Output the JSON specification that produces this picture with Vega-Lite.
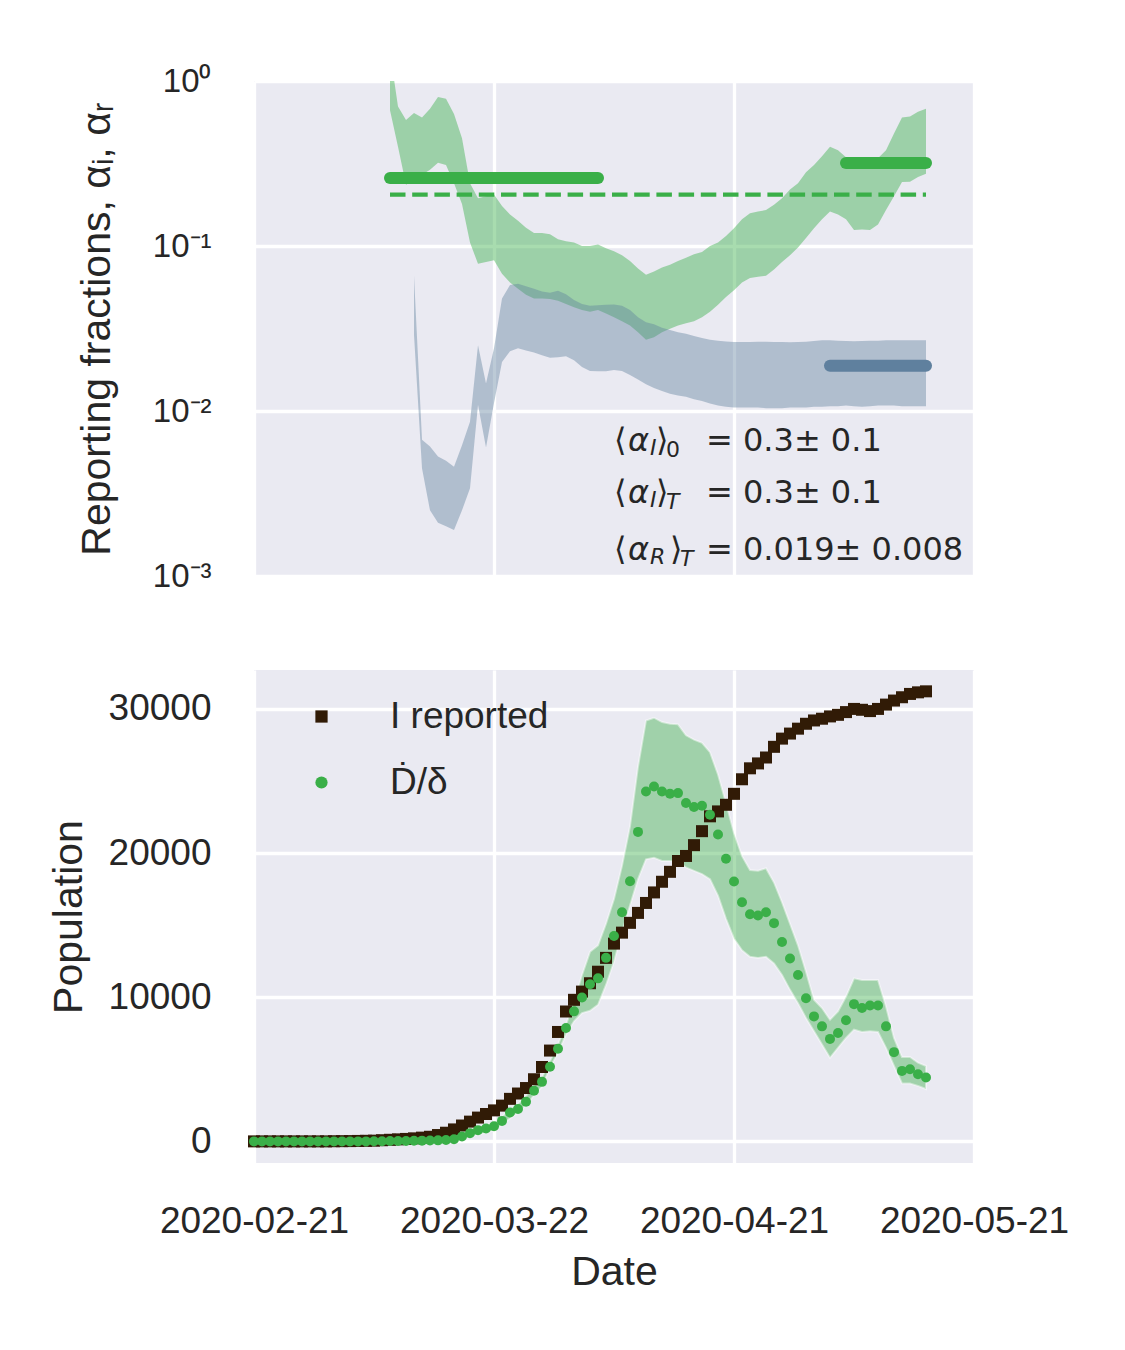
{
  "$schema": "https://vega.github.io/schema/vega-lite/v6.json",
  "background": "white",
  "padding": {"left": 48, "top": 65, "right": 10, "bottom": 10},
  "spacing": 77,
  "datasets": {
    "alpha": [
      {"date": "2020-03-09", "iLo": 0.665, "iHi": 1.5},
      {"date": "2020-03-10", "iLo": 0.40, "iHi": 0.70},
      {"date": "2020-03-11", "iLo": 0.235, "iHi": 0.58},
      {"date": "2020-03-12", "iLo": 0.25, "iHi": 0.64, "rLo": 0.029, "rHi": 0.066},
      {"date": "2020-03-13", "iLo": 0.27, "iHi": 0.60, "rLo": 0.0045, "rHi": 0.0067},
      {"date": "2020-03-14", "iLo": 0.29, "iHi": 0.68, "rLo": 0.0025, "rHi": 0.0061},
      {"date": "2020-03-15", "iLo": 0.32, "iHi": 0.80, "rLo": 0.0021, "rHi": 0.0053},
      {"date": "2020-03-16", "iLo": 0.31, "iHi": 0.78, "rLo": 0.0020, "rHi": 0.0050},
      {"date": "2020-03-17", "iLo": 0.24, "iHi": 0.63, "rLo": 0.0019, "rHi": 0.0046},
      {"date": "2020-03-18", "iLo": 0.18, "iHi": 0.45, "rLo": 0.0025, "rHi": 0.0062},
      {"date": "2020-03-19", "iLo": 0.105, "iHi": 0.24, "rLo": 0.0034, "rHi": 0.0086},
      {"date": "2020-03-20", "iLo": 0.078, "iHi": 0.195, "rLo": 0.0109, "rHi": 0.025},
      {"date": "2020-03-21", "iLo": 0.080, "iHi": 0.20, "rLo": 0.006, "rHi": 0.0147},
      {"date": "2020-03-22", "iLo": 0.082, "iHi": 0.205, "rLo": 0.0112, "rHi": 0.024},
      {"date": "2020-03-23", "iLo": 0.068, "iHi": 0.175, "rLo": 0.0198, "rHi": 0.048},
      {"date": "2020-03-24", "iLo": 0.060, "iHi": 0.155, "rLo": 0.023, "rHi": 0.058},
      {"date": "2020-03-25", "iLo": 0.055, "iHi": 0.142, "rLo": 0.024, "rHi": 0.059},
      {"date": "2020-03-26", "iLo": 0.0507, "iHi": 0.129, "rLo": 0.0233, "rHi": 0.057},
      {"date": "2020-03-27", "iLo": 0.048, "iHi": 0.12, "rLo": 0.0226, "rHi": 0.055},
      {"date": "2020-03-28", "iLo": 0.048, "iHi": 0.12, "rLo": 0.0218, "rHi": 0.053},
      {"date": "2020-03-29", "iLo": 0.0477, "iHi": 0.118, "rLo": 0.021, "rHi": 0.052},
      {"date": "2020-03-30", "iLo": 0.0465, "iHi": 0.11, "rLo": 0.0212, "rHi": 0.0535},
      {"date": "2020-03-31", "iLo": 0.0445, "iHi": 0.107, "rLo": 0.0215, "rHi": 0.051},
      {"date": "2020-04-01", "iLo": 0.0425, "iHi": 0.105, "rLo": 0.0203, "rHi": 0.047},
      {"date": "2020-04-02", "iLo": 0.041, "iHi": 0.1, "rLo": 0.0185, "rHi": 0.0445},
      {"date": "2020-04-03", "iLo": 0.040, "iHi": 0.1, "rLo": 0.0175, "rHi": 0.0435},
      {"date": "2020-04-04", "iLo": 0.041, "iHi": 0.102, "rLo": 0.0174, "rHi": 0.0437},
      {"date": "2020-04-05", "iLo": 0.039, "iHi": 0.097, "rLo": 0.0174, "rHi": 0.044},
      {"date": "2020-04-06", "iLo": 0.037, "iHi": 0.093, "rLo": 0.0177, "rHi": 0.0442},
      {"date": "2020-04-07", "iLo": 0.035, "iHi": 0.088, "rLo": 0.0175, "rHi": 0.0435},
      {"date": "2020-04-08", "iLo": 0.033, "iHi": 0.081, "rLo": 0.0165, "rHi": 0.041},
      {"date": "2020-04-09", "iLo": 0.030, "iHi": 0.073, "rLo": 0.0155, "rHi": 0.037},
      {"date": "2020-04-10", "iLo": 0.027, "iHi": 0.067, "rLo": 0.0145, "rHi": 0.0345},
      {"date": "2020-04-11", "iLo": 0.028, "iHi": 0.070, "rLo": 0.0138, "rHi": 0.0335},
      {"date": "2020-04-12", "iLo": 0.030, "iHi": 0.074, "rLo": 0.0132, "rHi": 0.032},
      {"date": "2020-04-13", "iLo": 0.0315, "iHi": 0.077, "rLo": 0.0127, "rHi": 0.031},
      {"date": "2020-04-14", "iLo": 0.033, "iHi": 0.081, "rLo": 0.0124, "rHi": 0.030},
      {"date": "2020-04-15", "iLo": 0.034, "iHi": 0.085, "rLo": 0.0122, "rHi": 0.0294},
      {"date": "2020-04-16", "iLo": 0.035, "iHi": 0.089, "rLo": 0.0118, "rHi": 0.0285},
      {"date": "2020-04-17", "iLo": 0.037, "iHi": 0.092, "rLo": 0.0115, "rHi": 0.0277},
      {"date": "2020-04-18", "iLo": 0.040, "iHi": 0.10, "rLo": 0.0111, "rHi": 0.027},
      {"date": "2020-04-19", "iLo": 0.044, "iHi": 0.105, "rLo": 0.0108, "rHi": 0.0267},
      {"date": "2020-04-20", "iLo": 0.049, "iHi": 0.115, "rLo": 0.0106, "rHi": 0.0264},
      {"date": "2020-04-21", "iLo": 0.054, "iHi": 0.128, "rLo": 0.0105, "rHi": 0.0262},
      {"date": "2020-04-22", "iLo": 0.060, "iHi": 0.145, "rLo": 0.0105, "rHi": 0.0262},
      {"date": "2020-04-23", "iLo": 0.064, "iHi": 0.158, "rLo": 0.0105, "rHi": 0.0262},
      {"date": "2020-04-24", "iLo": 0.065, "iHi": 0.162, "rLo": 0.0105, "rHi": 0.0263},
      {"date": "2020-04-25", "iLo": 0.066, "iHi": 0.165, "rLo": 0.0104, "rHi": 0.0263},
      {"date": "2020-04-26", "iLo": 0.072, "iHi": 0.178, "rLo": 0.0104, "rHi": 0.0262},
      {"date": "2020-04-27", "iLo": 0.080, "iHi": 0.195, "rLo": 0.0104, "rHi": 0.0262},
      {"date": "2020-04-28", "iLo": 0.088, "iHi": 0.22, "rLo": 0.0105, "rHi": 0.0261},
      {"date": "2020-04-29", "iLo": 0.098, "iHi": 0.24, "rLo": 0.0105, "rHi": 0.0262},
      {"date": "2020-04-30", "iLo": 0.112, "iHi": 0.28, "rLo": 0.0105, "rHi": 0.0263},
      {"date": "2020-05-01", "iLo": 0.128, "iHi": 0.31, "rLo": 0.0106, "rHi": 0.0266},
      {"date": "2020-05-02", "iLo": 0.145, "iHi": 0.35, "rLo": 0.0106, "rHi": 0.0268},
      {"date": "2020-05-03", "iLo": 0.162, "iHi": 0.40, "rLo": 0.0107, "rHi": 0.0268},
      {"date": "2020-05-04", "iLo": 0.155, "iHi": 0.38, "rLo": 0.0107, "rHi": 0.0267},
      {"date": "2020-05-05", "iLo": 0.145, "iHi": 0.345, "rLo": 0.0108, "rHi": 0.0266},
      {"date": "2020-05-06", "iLo": 0.125, "iHi": 0.32, "rLo": 0.0107, "rHi": 0.0265},
      {"date": "2020-05-07", "iLo": 0.126, "iHi": 0.32, "rLo": 0.0106, "rHi": 0.0266},
      {"date": "2020-05-08", "iLo": 0.125, "iHi": 0.32, "rLo": 0.0107, "rHi": 0.0267},
      {"date": "2020-05-09", "iLo": 0.135, "iHi": 0.34, "rLo": 0.0108, "rHi": 0.0267},
      {"date": "2020-05-10", "iLo": 0.165, "iHi": 0.38, "rLo": 0.0108, "rHi": 0.0268},
      {"date": "2020-05-11", "iLo": 0.20, "iHi": 0.48, "rLo": 0.0108, "rHi": 0.0268},
      {"date": "2020-05-12", "iLo": 0.244, "iHi": 0.60, "rLo": 0.0107, "rHi": 0.0268},
      {"date": "2020-05-13", "iLo": 0.245, "iHi": 0.61, "rLo": 0.0107, "rHi": 0.0268},
      {"date": "2020-05-14", "iLo": 0.262, "iHi": 0.65, "rLo": 0.0107, "rHi": 0.0268},
      {"date": "2020-05-15", "iLo": 0.274, "iHi": 0.68, "rLo": 0.0107, "rHi": 0.0268}
    ],
    "refs": [
      {"name": "I0", "start": "2020-03-09", "end": "2020-04-04", "value": 0.258},
      {"name": "IT", "start": "2020-05-05", "end": "2020-05-15", "value": 0.318},
      {"name": "mean", "start": "2020-03-09", "end": "2020-05-15", "value": 0.205},
      {"name": "RT", "start": "2020-05-03", "end": "2020-05-15", "value": 0.0188}
    ],
    "notes": [
      {"line": 1, "date": "2020-04-06", "value": 0.00572, "s1": "I", "s2": "0", "rest": "= 0.3± 0.1"},
      {"line": 2, "date": "2020-04-06", "value": 0.00277, "s1": "I", "s2": "T", "rest": "= 0.3± 0.1"},
      {"line": 3, "date": "2020-04-06", "value": 0.00125, "s1": "R", "s2": "T", "rest": "= 0.019± 0.008"}
    ],
    "pop": [
      {"date": "2020-02-21", "reported": 0, "rate": 0},
      {"date": "2020-02-22", "reported": 0, "rate": 0},
      {"date": "2020-02-23", "reported": 0, "rate": 0},
      {"date": "2020-02-24", "reported": 0, "rate": 0},
      {"date": "2020-02-25", "reported": 0, "rate": 0},
      {"date": "2020-02-26", "reported": 0, "rate": 0},
      {"date": "2020-02-27", "reported": 0, "rate": 0},
      {"date": "2020-02-28", "reported": 0, "rate": 0},
      {"date": "2020-02-29", "reported": 0, "rate": 0},
      {"date": "2020-03-01", "reported": 0, "rate": 0},
      {"date": "2020-03-02", "reported": 10, "rate": 0},
      {"date": "2020-03-03", "reported": 15, "rate": 0},
      {"date": "2020-03-04", "reported": 20, "rate": 0},
      {"date": "2020-03-05", "reported": 30, "rate": 0},
      {"date": "2020-03-06", "reported": 40, "rate": 0},
      {"date": "2020-03-07", "reported": 50, "rate": 10},
      {"date": "2020-03-08", "reported": 80, "rate": 15},
      {"date": "2020-03-09", "reported": 110, "rate": 20},
      {"date": "2020-03-10", "reported": 140, "rate": 25},
      {"date": "2020-03-11", "reported": 170, "rate": 30},
      {"date": "2020-03-12", "reported": 210, "rate": 40, "lo": 0, "hi": 100},
      {"date": "2020-03-13", "reported": 260, "rate": 50, "lo": 0, "hi": 130},
      {"date": "2020-03-14", "reported": 320, "rate": 60, "lo": 10, "hi": 160},
      {"date": "2020-03-15", "reported": 440, "rate": 70, "lo": 20, "hi": 200},
      {"date": "2020-03-16", "reported": 600, "rate": 90, "lo": 30, "hi": 260},
      {"date": "2020-03-17", "reported": 830, "rate": 150, "lo": 60, "hi": 260},
      {"date": "2020-03-18", "reported": 1100, "rate": 340, "lo": 150, "hi": 480},
      {"date": "2020-03-19", "reported": 1370, "rate": 570, "lo": 320, "hi": 760},
      {"date": "2020-03-20", "reported": 1650, "rate": 780, "lo": 500, "hi": 1000},
      {"date": "2020-03-21", "reported": 1900, "rate": 890, "lo": 600, "hi": 1120},
      {"date": "2020-03-22", "reported": 2150, "rate": 1050, "lo": 780, "hi": 1300},
      {"date": "2020-03-23", "reported": 2480, "rate": 1420, "lo": 1150, "hi": 1700},
      {"date": "2020-03-24", "reported": 2950, "rate": 2000, "lo": 1600, "hi": 2250},
      {"date": "2020-03-25", "reported": 3320, "rate": 2250, "lo": 2000, "hi": 2600},
      {"date": "2020-03-26", "reported": 3700, "rate": 2750, "lo": 2500, "hi": 3150},
      {"date": "2020-03-27", "reported": 4310, "rate": 3510, "lo": 3200, "hi": 3900},
      {"date": "2020-03-28", "reported": 5160, "rate": 4130, "lo": 3800, "hi": 4450},
      {"date": "2020-03-29", "reported": 6300, "rate": 5180, "lo": 5120, "hi": 5570},
      {"date": "2020-03-30", "reported": 7590, "rate": 6420, "lo": 6150, "hi": 6720},
      {"date": "2020-03-31", "reported": 9010, "rate": 7870, "lo": 7410, "hi": 8100},
      {"date": "2020-04-01", "reported": 9820, "rate": 9020, "lo": 8330, "hi": 9700},
      {"date": "2020-04-02", "reported": 10390, "rate": 9980, "lo": 8900, "hi": 11540},
      {"date": "2020-04-03", "reported": 10970, "rate": 10900, "lo": 9060, "hi": 13150},
      {"date": "2020-04-04", "reported": 11770, "rate": 11310, "lo": 9470, "hi": 13600},
      {"date": "2020-04-05", "reported": 12730, "rate": 12730, "lo": 10850, "hi": 15100},
      {"date": "2020-04-06", "reported": 13720, "rate": 14250, "lo": 12460, "hi": 16820},
      {"date": "2020-04-07", "reported": 14480, "rate": 15900, "lo": 14520, "hi": 19110},
      {"date": "2020-04-08", "reported": 15160, "rate": 18050, "lo": 16360, "hi": 21860},
      {"date": "2020-04-09", "reported": 15850, "rate": 21470, "lo": 18190, "hi": 25990},
      {"date": "2020-04-10", "reported": 16540, "rate": 24270, "lo": 19570, "hi": 29200},
      {"date": "2020-04-11", "reported": 17270, "rate": 24620, "lo": 19680, "hi": 29390},
      {"date": "2020-04-12", "reported": 18010, "rate": 24270, "lo": 19450, "hi": 29090},
      {"date": "2020-04-13", "reported": 18700, "rate": 24110, "lo": 19450, "hi": 28970},
      {"date": "2020-04-14", "reported": 19450, "rate": 24160, "lo": 19380, "hi": 28930},
      {"date": "2020-04-15", "reported": 19800, "rate": 23470, "lo": 19000, "hi": 28170},
      {"date": "2020-04-16", "reported": 20550, "rate": 23190, "lo": 18770, "hi": 27870},
      {"date": "2020-04-17", "reported": 21520, "rate": 23280, "lo": 18540, "hi": 27650},
      {"date": "2020-04-18", "reported": 22550, "rate": 22660, "lo": 18190, "hi": 27000},
      {"date": "2020-04-19", "reported": 22890, "rate": 21290, "lo": 17040, "hi": 25450},
      {"date": "2020-04-20", "reported": 23350, "rate": 19610, "lo": 15440, "hi": 23470},
      {"date": "2020-04-21", "reported": 24110, "rate": 18030, "lo": 14060, "hi": 21400},
      {"date": "2020-04-22", "reported": 25120, "rate": 16590, "lo": 13260, "hi": 19800},
      {"date": "2020-04-23", "reported": 25880, "rate": 15760, "lo": 12800, "hi": 18830},
      {"date": "2020-04-24", "reported": 26220, "rate": 15670, "lo": 12730, "hi": 18770},
      {"date": "2020-04-25", "reported": 26630, "rate": 15900, "lo": 12800, "hi": 18950},
      {"date": "2020-04-26", "reported": 27370, "rate": 15140, "lo": 12340, "hi": 17960},
      {"date": "2020-04-27", "reported": 27940, "rate": 13830, "lo": 11540, "hi": 16590},
      {"date": "2020-04-28", "reported": 28290, "rate": 12690, "lo": 10510, "hi": 15100},
      {"date": "2020-04-29", "reported": 28630, "rate": 11540, "lo": 9590, "hi": 13600},
      {"date": "2020-04-30", "reported": 28970, "rate": 9930, "lo": 8560, "hi": 11770},
      {"date": "2020-05-01", "reported": 29200, "rate": 8670, "lo": 7640, "hi": 9820},
      {"date": "2020-05-02", "reported": 29320, "rate": 7980, "lo": 6720, "hi": 9250},
      {"date": "2020-05-03", "reported": 29480, "rate": 7110, "lo": 5800, "hi": 8440},
      {"date": "2020-05-04", "reported": 29590, "rate": 7520, "lo": 6490, "hi": 9020},
      {"date": "2020-05-05", "reported": 29780, "rate": 8400, "lo": 7180, "hi": 10050},
      {"date": "2020-05-06", "reported": 30000, "rate": 9520, "lo": 7750, "hi": 11310},
      {"date": "2020-05-07", "reported": 29940, "rate": 9250, "lo": 7590, "hi": 11200},
      {"date": "2020-05-08", "reported": 29850, "rate": 9430, "lo": 7640, "hi": 11200},
      {"date": "2020-05-09", "reported": 30000, "rate": 9430, "lo": 7590, "hi": 11200},
      {"date": "2020-05-10", "reported": 30300, "rate": 7980, "lo": 6490, "hi": 9360},
      {"date": "2020-05-11", "reported": 30580, "rate": 6190, "lo": 5230, "hi": 7180},
      {"date": "2020-05-12", "reported": 30810, "rate": 4890, "lo": 4020, "hi": 5850},
      {"date": "2020-05-13", "reported": 31040, "rate": 5000, "lo": 4020, "hi": 5850},
      {"date": "2020-05-14", "reported": 31150, "rate": 4660, "lo": 3850, "hi": 5460},
      {"date": "2020-05-15", "reported": 31220, "rate": 4430, "lo": 3630, "hi": 5230}
    ]
  },
  "vconcat": [
    {
      "width": 720,
      "height": 495,
      "layer": [
        {
          "data": {"name": "alpha"},
          "mark": {"type": "area", "color": "#3aaf48", "opacity": 0.44, "clip": true},
          "encoding": {
            "x": {
              "field": "date", "type": "temporal", "title": null,
              "scale": {"type": "utc", "domain": [{"year": 2020, "month": "feb", "date": 21, "utc": true}, {"year": 2020, "month": "may", "date": 21, "utc": true}]},
              "axis": {
                "title": null, "labels": false, "ticks": false, "domain": false,
                "values": [
                  {"year": 2020, "month": "feb", "date": 21, "utc": true},
                  {"year": 2020, "month": "mar", "date": 22, "utc": true},
                  {"year": 2020, "month": "apr", "date": 21, "utc": true},
                  {"year": 2020, "month": "may", "date": 21, "utc": true}
                ]
              }
            },
            "y": {
              "field": "iLo", "type": "quantitative", "title": "Reporting fractions, αᵢ, αᵣ",
              "scale": {"type": "log", "domain": [0.001, 1]},
              "axis": {
                "title": "Reporting fractions, αᵢ, αᵣ",
                "values": [0.001, 0.01, 0.1, 1],
                "labelExpr": "datum.value > 0.5 ? '10⁰' : datum.value > 0.05 ? '10⁻¹' : datum.value > 0.005 ? '10⁻²' : '10⁻³'",
                "labelFontSize": 33,
                "titlePadding": 34
              }
            },
            "y2": {"field": "iHi"}
          }
        },
        {
          "data": {"name": "alpha"},
          "transform": [{"filter": "isValid(datum.rLo)"}],
          "mark": {"type": "area", "color": "#5f809e", "opacity": 0.42, "clip": true},
          "encoding": {
            "x": {"field": "date", "type": "temporal", "title": null},
            "y": {"field": "rLo", "type": "quantitative", "title": "Reporting fractions, αᵢ, αᵣ"},
            "y2": {"field": "rHi"}
          }
        },
        {
          "data": {"name": "refs"},
          "transform": [{"filter": "datum.name === 'mean'"}],
          "mark": {"type": "rule", "color": "#3aaf48", "strokeWidth": 4.2, "strokeDash": [15.5, 6.7]},
          "encoding": {
            "x": {"field": "start", "type": "temporal", "title": null},
            "x2": {"field": "end"},
            "y": {"field": "value", "type": "quantitative", "title": "Reporting fractions, αᵢ, αᵣ"}
          }
        },
        {
          "data": {"name": "refs"},
          "transform": [{"filter": "datum.name === 'I0' || datum.name === 'IT'"}],
          "mark": {"type": "rule", "color": "#3aaf48", "strokeWidth": 12, "strokeCap": "round"},
          "encoding": {
            "x": {"field": "start", "type": "temporal", "title": null},
            "x2": {"field": "end"},
            "y": {"field": "value", "type": "quantitative", "title": "Reporting fractions, αᵢ, αᵣ"}
          }
        },
        {
          "data": {"name": "refs"},
          "transform": [{"filter": "datum.name === 'RT'"}],
          "mark": {"type": "rule", "color": "#5f809e", "strokeWidth": 12, "strokeCap": "round"},
          "encoding": {
            "x": {"field": "start", "type": "temporal", "title": null},
            "x2": {"field": "end"},
            "y": {"field": "value", "type": "quantitative", "title": "Reporting fractions, αᵢ, αᵣ"}
          }
        },
        {
          "data": {"name": "notes"},
          "mark": {"type": "text", "text": "⟨", "font": "DejaVu Sans", "fontSize": 32, "color": "#262626", "align": "left", "baseline": "alphabetic", "dx": 0},
          "encoding": {
            "x": {"field": "date", "type": "temporal", "title": null},
            "y": {"field": "value", "type": "quantitative", "title": "Reporting fractions, αᵢ, αᵣ"}
          }
        },
        {
          "data": {"name": "notes"},
          "mark": {"type": "text", "text": "α", "font": "DejaVu Sans", "fontStyle": "italic", "fontSize": 32, "color": "#262626", "align": "left", "baseline": "alphabetic", "dx": 14},
          "encoding": {
            "x": {"field": "date", "type": "temporal", "title": null},
            "y": {"field": "value", "type": "quantitative", "title": "Reporting fractions, αᵢ, αᵣ"}
          }
        },
        {
          "data": {"name": "notes"},
          "mark": {"type": "text", "font": "DejaVu Sans", "fontStyle": "italic", "fontSize": 22, "color": "#262626", "align": "left", "baseline": "alphabetic", "dx": 36, "dy": 4},
          "encoding": {
            "x": {"field": "date", "type": "temporal", "title": null},
            "y": {"field": "value", "type": "quantitative", "title": "Reporting fractions, αᵢ, αᵣ"},
            "text": {"field": "s1"}
          }
        },
        {
          "data": {"name": "notes"},
          "transform": [{"filter": "datum.line < 3"}],
          "mark": {"type": "text", "text": "⟩", "font": "DejaVu Sans", "fontSize": 32, "color": "#262626", "align": "left", "baseline": "alphabetic", "dx": 42},
          "encoding": {
            "x": {"field": "date", "type": "temporal", "title": null},
            "y": {"field": "value", "type": "quantitative", "title": "Reporting fractions, αᵢ, αᵣ"}
          }
        },
        {
          "data": {"name": "notes"},
          "transform": [{"filter": "datum.line === 3"}],
          "mark": {"type": "text", "text": "⟩", "font": "DejaVu Sans", "fontSize": 32, "color": "#262626", "align": "left", "baseline": "alphabetic", "dx": 56},
          "encoding": {
            "x": {"field": "date", "type": "temporal", "title": null},
            "y": {"field": "value", "type": "quantitative", "title": "Reporting fractions, αᵢ, αᵣ"}
          }
        },
        {
          "data": {"name": "notes"},
          "transform": [{"filter": "datum.line === 1"}],
          "mark": {"type": "text", "font": "DejaVu Sans", "fontSize": 22, "color": "#262626", "align": "left", "baseline": "alphabetic", "dx": 52, "dy": 6},
          "encoding": {
            "x": {"field": "date", "type": "temporal", "title": null},
            "y": {"field": "value", "type": "quantitative", "title": "Reporting fractions, αᵢ, αᵣ"},
            "text": {"field": "s2"}
          }
        },
        {
          "data": {"name": "notes"},
          "transform": [{"filter": "datum.line === 2"}],
          "mark": {"type": "text", "font": "DejaVu Sans", "fontStyle": "italic", "fontSize": 22, "color": "#262626", "align": "left", "baseline": "alphabetic", "dx": 52, "dy": 6},
          "encoding": {
            "x": {"field": "date", "type": "temporal", "title": null},
            "y": {"field": "value", "type": "quantitative", "title": "Reporting fractions, αᵢ, αᵣ"},
            "text": {"field": "s2"}
          }
        },
        {
          "data": {"name": "notes"},
          "transform": [{"filter": "datum.line === 3"}],
          "mark": {"type": "text", "font": "DejaVu Sans", "fontStyle": "italic", "fontSize": 22, "color": "#262626", "align": "left", "baseline": "alphabetic", "dx": 66, "dy": 6},
          "encoding": {
            "x": {"field": "date", "type": "temporal", "title": null},
            "y": {"field": "value", "type": "quantitative", "title": "Reporting fractions, αᵢ, αᵣ"},
            "text": {"field": "s2"}
          }
        },
        {
          "data": {"name": "notes"},
          "mark": {"type": "text", "font": "DejaVu Sans", "fontSize": 32, "color": "#262626", "align": "left", "baseline": "alphabetic", "dx": 92},
          "encoding": {
            "x": {"field": "date", "type": "temporal", "title": null},
            "y": {"field": "value", "type": "quantitative", "title": "Reporting fractions, αᵢ, αᵣ"},
            "text": {"field": "rest"}
          }
        }
      ]
    },
    {
      "width": 720,
      "height": 493,
      "data": {"name": "pop"},
      "layer": [
        {
          "transform": [{"filter": "isValid(datum.lo)"}],
          "mark": {"type": "area", "fill": "#3aaf48", "fillOpacity": 0.42, "stroke": "#ffffff", "strokeOpacity": 0.45, "strokeWidth": 2},
          "encoding": {
            "x": {
              "field": "date", "type": "temporal", "title": "Date",
              "scale": {"type": "utc", "domain": [{"year": 2020, "month": "feb", "date": 21, "utc": true}, {"year": 2020, "month": "may", "date": 21, "utc": true}]},
              "axis": {
                "title": "Date",
                "format": "%Y-%m-%d",
                "labelFlush": false,
                "labelOverlap": false,
                "labelLimit": 0,
                "labelPadding": 40,
                "titlePadding": 13,
                "values": [
                  {"year": 2020, "month": "feb", "date": 21, "utc": true},
                  {"year": 2020, "month": "mar", "date": 22, "utc": true},
                  {"year": 2020, "month": "apr", "date": 21, "utc": true},
                  {"year": 2020, "month": "may", "date": 21, "utc": true}
                ]
              }
            },
            "y": {
              "field": "lo", "type": "quantitative", "title": "Population",
              "scale": {"domain": [-1500, 32700], "nice": false, "zero": false},
              "axis": {"title": "Population", "values": [0, 10000, 20000, 30000], "format": "d", "titlePadding": 18}
            },
            "y2": {"field": "hi"}
          }
        },
        {
          "mark": {"type": "point", "filled": true, "opacity": 1, "size": 144},
          "encoding": {
            "x": {"field": "date", "type": "temporal", "title": "Date"},
            "y": {"field": "reported", "type": "quantitative", "title": "Population"},
            "color": {
              "datum": "I reported", "type": "nominal",
              "scale": {"domain": ["I reported", "Ḋ/δ"], "range": ["#311b06", "#3aaf48"]},
              "legend": {"title": null}
            },
            "shape": {
              "datum": "I reported", "type": "nominal",
              "scale": {"domain": ["I reported", "Ḋ/δ"], "range": ["square", "circle"]},
              "legend": {"title": null}
            }
          }
        },
        {
          "mark": {"type": "point", "filled": true, "opacity": 1, "size": 100},
          "encoding": {
            "x": {"field": "date", "type": "temporal", "title": "Date"},
            "y": {"field": "rate", "type": "quantitative", "title": "Population"},
            "color": {"datum": "Ḋ/δ", "type": "nominal", "legend": {"title": null}},
            "shape": {"datum": "Ḋ/δ", "type": "nominal", "legend": {"title": null}}
          }
        }
      ]
    }
  ],
  "config": {
    "font": "Liberation Sans",
    "view": {"fill": "#eaeaf2", "stroke": null},
    "axis": {
      "grid": true,
      "gridColor": "#ffffff",
      "gridWidth": 3.3,
      "domain": false,
      "ticks": false,
      "tickSize": 0,
      "labelColor": "#262626",
      "titleColor": "#262626",
      "labelFont": "Liberation Sans",
      "titleFont": "Liberation Sans",
      "labelFontSize": 37,
      "titleFontSize": 41,
      "titleFontWeight": "normal",
      "labelPadding": 43
    },
    "legend": {
      "orient": "none",
      "legendX": 49,
      "legendY": 617,
      "padding": 0,
      "labelFontSize": 37,
      "labelFont": "Liberation Sans",
      "labelColor": "#262626",
      "labelOffset": 50,
      "rowPadding": 28,
      "symbolSize": 150,
      "symbolStrokeWidth": 0
    }
  }
}
